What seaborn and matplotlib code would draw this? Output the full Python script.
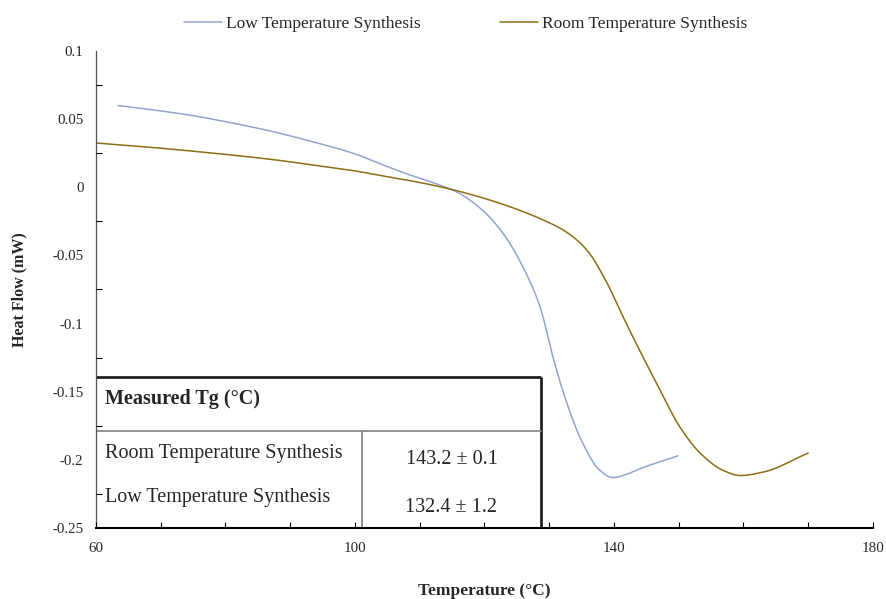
import numpy as np
import pandas as pd
import matplotlib
matplotlib.use("Agg")
import matplotlib.pyplot as plt
import seaborn as sns

# ---- data ----
low_T = [63.4, 73.0, 85.3, 93.0, 100.0, 104.0, 108.5, 112.0, 115.7, 119.5, 122.9, 126.0, 128.6,
         130.6, 132.7, 135.2, 137.8, 139.8, 142.0, 144.0, 149.9]
low_hf = [0.060, 0.054, 0.043, 0.034, 0.0245, 0.017, 0.009, 0.0035, -0.0034, -0.016, -0.034, -0.059, -0.088,
          -0.125, -0.158, -0.188, -0.2076, -0.2130, -0.2105, -0.2065, -0.197]

room_T = [60.0, 68.0, 76.0, 87.0, 94.0, 100.0, 104.0, 110.0, 115.7, 121.9, 128.6, 132.7, 135.8, 138.9,
          141.4, 144.0, 146.6, 150.2, 153.3, 156.8, 159.5, 163.0, 170.0]
room_hf = [0.0325, 0.0295, 0.0260, 0.0205, 0.0160, 0.0120, 0.0085, 0.0035, -0.0025, -0.011, -0.023, -0.033, -0.046, -0.070,
           -0.095, -0.120, -0.144, -0.176, -0.195, -0.2076, -0.2115, -0.2090, -0.195]

series_names = ["Low Temperature Synthesis", "Room Temperature Synthesis"]
table_header = "Measured Tg (\u00b0C)"
table_rows = ["Room Temperature Synthesis", "Low Temperature Synthesis"]
table_values = ["143.2 \u00b1 0.1", "132.4 \u00b1 1.2"]

x_ticks = [60, 100, 140, 180]
y_ticks = [0.1, 0.05, 0, -0.05, -0.1, -0.15, -0.2, -0.25]
y_tick_labels = ["0.1", "0.05", "0", "-0.05", "-0.1", "-0.15", "-0.2", "-0.25"]


def pchip(xs, ys, n=500):
    """Shape-preserving cubic Hermite curve through the read points."""
    x = np.asarray(xs, float); y = np.asarray(ys, float)
    h = np.diff(x); d = np.diff(y) / h
    m = np.zeros_like(y)
    for k in range(1, len(x) - 1):
        if d[k - 1] * d[k] > 0:
            w1 = 2 * h[k] + h[k - 1]; w2 = h[k] + 2 * h[k - 1]
            m[k] = (w1 + w2) / (w1 / d[k - 1] + w2 / d[k])
    m[0] = d[0]; m[-1] = d[-1]
    xd = np.linspace(x[0], x[-1], n)
    idx = np.clip(np.searchsorted(x, xd) - 1, 0, len(x) - 2)
    t = (xd - x[idx]) / h[idx]
    h00 = 2 * t**3 - 3 * t**2 + 1; h10 = t**3 - 2 * t**2 + t
    h01 = -2 * t**3 + 3 * t**2; h11 = t**3 - t**2
    yd = h00 * y[idx] + h10 * h[idx] * m[idx] + h01 * y[idx + 1] + h11 * h[idx] * m[idx + 1]
    return xd, yd


lx, ly = pchip(low_T, low_hf)
rx, ry = pchip(room_T, room_hf)
df = pd.concat([
    pd.DataFrame({"Temperature": lx, "Heat Flow": ly, "Series": series_names[0]}),
    pd.DataFrame({"Temperature": rx, "Heat Flow": ry, "Series": series_names[1]}),
])

sns.set_style("white")
plt.rcParams["font.family"] = ["Liberation Serif", "DejaVu Serif"]

fig = plt.figure(figsize=(8.87, 5.99), dpi=100)
ax = fig.add_axes([0.1082, 0.1185, 0.8760, 0.7964])

palette = {series_names[0]: "#8FA6C9", series_names[1]: "#8C6C14"}
sns.lineplot(data=df, x="Temperature", y="Heat Flow", hue="Series", palette=palette,
             ax=ax, linewidth=1.1, sort=False, legend=False, zorder=3)

ax.set_xlim(60, 180)
ax.set_ylim(-0.25, 0.1)
ax.set_xticks(x_ticks)
ax.set_xticklabels([str(t) for t in x_ticks], fontsize=10.8)
ax.set_xticks(np.arange(60, 181, 10), minor=True)
ax.set_yticks(y_ticks)
ax.set_yticklabels(y_tick_labels, fontsize=10.8)
ax.set_yticks(np.arange(-0.25, 0.1001, 0.025), minor=True)
ax.tick_params(axis="y", which="major", direction="out", length=4, width=0.8, color="black", pad=5)
ax.tick_params(axis="y", which="minor", direction="in", length=4, width=0.8, color="black", left=True)
ax.tick_params(axis="x", which="both", direction="in", length=4, width=0.8, color="black", bottom=True, pad=10)

for s in ["top", "right"]:
    ax.spines[s].set_visible(False)
ax.spines["left"].set_color("#555555")
ax.spines["left"].set_linewidth(0.9)
ax.spines["bottom"].set_color("black")
ax.spines["bottom"].set_linewidth(1.5)
for s in ["left", "bottom"]:
    ax.spines[s].set_zorder(8)
ax.xaxis.set_zorder(8)
ax.yaxis.set_zorder(8)

ax.set_xlabel("Temperature (\u00b0C)", fontsize=12.5, fontweight="bold", labelpad=20)
ax.set_ylabel("Heat Flow (mW)", fontsize=11.5, fontweight="bold", labelpad=18)

# legend
handles = [plt.Line2D([], [], color=palette[n], linewidth=1.1) for n in series_names]
fig.legend(handles, series_names, loc="upper center", bbox_to_anchor=(0.525, 1.0), ncol=2,
           frameon=False, fontsize=12.5, handlelength=2.2, handletextpad=0.2, columnspacing=4.6)

# inset table (layout positions in data units)
t_left, t_right, t_top, t_mid, t_bottom, t_split = 60, 128.7, -0.1395, -0.1785, -0.25, 101.1
ax.fill_between([t_left, t_right], t_bottom, t_top, color="white", zorder=4)
ax.plot([t_left, t_right], [t_top, t_top], color="#222222", lw=2.0, zorder=5, solid_capstyle="butt")
ax.plot([t_right, t_right], [t_top, t_bottom], color="#222222", lw=2.0, zorder=5, solid_capstyle="butt")
ax.plot([t_left, t_right], [t_mid, t_mid], color="#888888", lw=1.3, zorder=5)
ax.plot([t_split, t_split], [t_mid, t_bottom], color="#888888", lw=1.3, zorder=5)

ax.text(61.4, -0.1555, table_header, fontsize=14.5, fontweight="bold", va="center", ha="left", zorder=6)
row_y = [-0.1950, -0.2275]
val_y = [-0.1995, -0.2350]
for r, ry_ in zip(table_rows, row_y):
    ax.text(61.4, ry_, r, fontsize=14.5, va="center", ha="left", zorder=6)
for v, vy in zip(table_values, val_y):
    ax.text((t_split + t_right) / 2, vy, v, fontsize=14.5, va="center", ha="center", zorder=6)

fig.savefig("out.png", dpi=100)
